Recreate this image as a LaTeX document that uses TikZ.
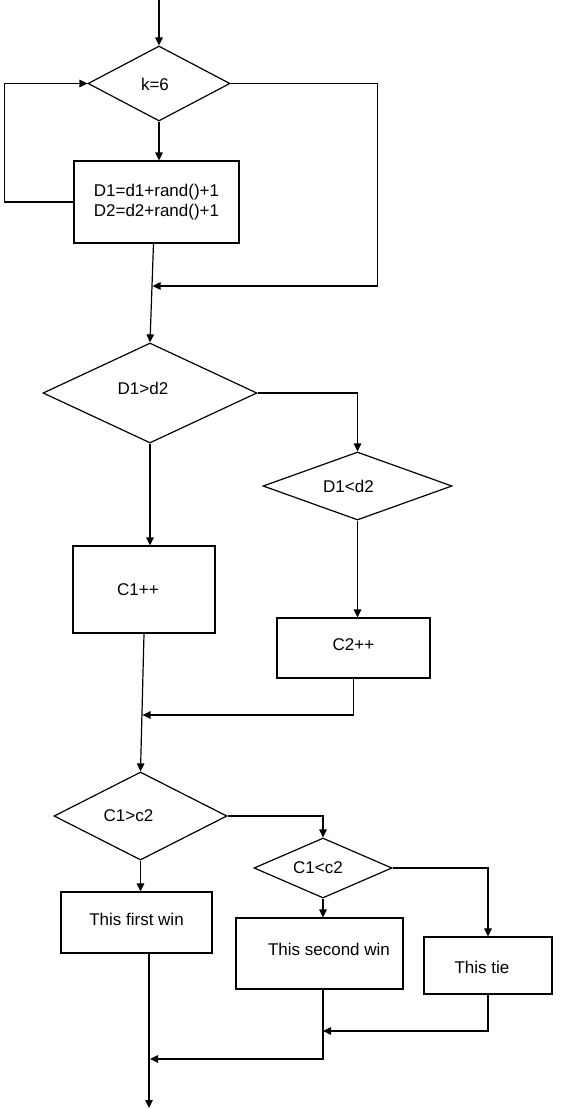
\documentclass[tikz,border=0pt]{standalone}
\usepackage{fontspec}
\setmainfont{Liberation Sans}
\usetikzlibrary{shapes.geometric,arrows.meta}

\begin{document}
\begin{tikzpicture}[x=1pt,y=-1pt,line width=1.2pt,
	font=\fontsize{17}{20}\selectfont,
	dec/.style={draw,diamond,inner sep=0pt},
	proc/.style={draw,rectangle,inner sep=0pt,align=center},
	arr/.style={-{Triangle[length=8pt,width=7.5pt]}}]
	\useasboundingbox (0,0) rectangle (563,1109);
	\coordinate (start) at (159,0);
	\node[dec,minimum width=142,minimum height=75,label={[xshift=-4,yshift=-1]center:k=6}] (k6) at (159,83.5) {};
	\node[proc,minimum width=165,minimum height=82] (upd) at (156.5,202) {D1=d1+rand()+1\\D2=d2+rand()+1};
	\node[dec,minimum width=214,minimum height=100,label={[xshift=-7,yshift=5]center:D1>d2}] (d1gt) at (150,393) {};
	\node[dec,minimum width=189,minimum height=68,label={[xshift=-9]center:D1<d2}] (d1lt) at (357.5,486) {};
	\node[proc,minimum width=142,minimum height=87,label={[xshift=-6]center:C1++}] (c1inc) at (144,589.5) {};
	\node[proc,minimum width=153,minimum height=60,label={[yshift=3]center:C2++}] (c2inc) at (353.5,648) {};
	\node[dec,minimum width=173,minimum height=88,label={[xshift=-12]center:C1>c2}] (c1gt) at (140.5,816) {};
	\node[dec,minimum width=138,minimum height=60,label={[xshift=-5]center:C1<c2}] (c1lt) at (323,868) {};
	\node[proc,minimum width=151,minimum height=61,label={[yshift=3]center:This first win}] (win1) at (136.5,922.5) {};
	\node[proc,minimum width=167,minimum height=71,label={[xshift=9.5,yshift=4.5]center:This second win}] (win2) at (319.5,953.5) {};
	\node[proc,minimum width=128,minimum height=57,label={[xshift=-6,yshift=-1.5]center:This tie}] (tie) at (488,965.5) {};
	\coordinate (join1) at (152.5,286);
	\coordinate (join2) at (142.5,715);
	\coordinate (join3) at (323,1031);
	\coordinate (join4) at (150,1059);
	\coordinate (stop) at (149,1108);
	\draw[arr] (start) -- (k6.north);
	\draw[arr] (k6.south) -- (k6.south |- upd.north);
	\draw[arr] (upd.west) -- ++(-69,0) |- (k6.west);
	\draw[arr] (k6.east) -- ++(147,0) |- (join1);
	\draw[arr] ([xshift=-3]upd.south) -- (d1gt.north);
	\draw[arr] (d1gt.east) -| (d1lt.north);
	\draw[arr] (d1gt.south) -- (d1gt.south |- c1inc.north);
	\draw[arr] (d1lt.south) -- (d1lt.south |- c2inc.north);
	\draw[arr] (c2inc.south) |- (join2);
	\draw[arr] (c1inc.south) -- (c1gt.north);
	\draw[arr] (c1gt.east) -| (c1lt.north);
	\draw[arr] (c1gt.south) -- (c1gt.south |- win1.north);
	\draw[arr] (c1lt.south) -- (c1lt.south |- win2.north);
	\draw[arr] (c1lt.east) -| (tie.north);
	\draw[arr] (tie.south) |- (join3);
	\draw[arr] (c1lt.south |- win2.south) |- (join4);
	\draw[arr] ([xshift=12.5]win1.south) -- (stop);
\end{tikzpicture}
\end{document}
